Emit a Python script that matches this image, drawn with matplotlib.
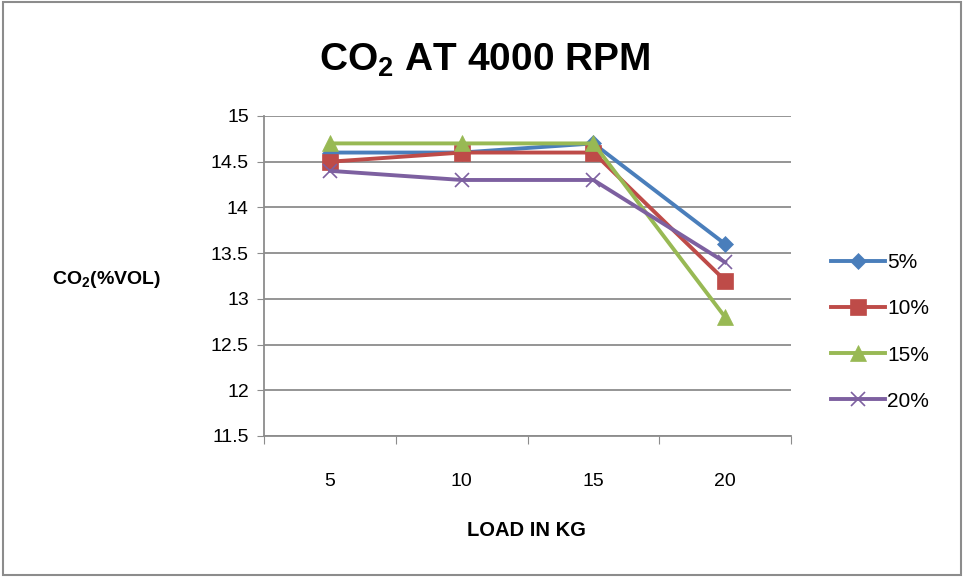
import matplotlib
matplotlib.use('Agg')
import matplotlib.pyplot as plt
from matplotlib.patches import Rectangle

plt.rcParams['font.family'] = ['Liberation Sans', 'DejaVu Sans']
plt.rcParams['mathtext.default'] = 'regular'

# ── Data ────────────────────────────────────────────────────────────────────
loads = ['5', '10', '15', '20']
series_names = ['5%', '10%', '15%', '20%']
co2_5 = [14.6, 14.6, 14.7, 13.6]
co2_10 = [14.5, 14.6, 14.6, 13.2]
co2_15 = [14.7, 14.7, 14.7, 12.8]
co2_20 = [14.4, 14.3, 14.3, 13.4]
y_ticks = [11.5, 12, 12.5, 13, 13.5, 14, 14.5, 15]

# ── Style ───────────────────────────────────────────────────────────────────
COLORS = ['#4A7EBB', '#BE4B48', '#98B954', '#7D60A0']
MARKERS = ['D', 's', '^', 'x']
MSIZES = [8, 11, 11, 10]
GRID = '#8c8c8c'

fig = plt.figure(figsize=(9.64, 5.77), dpi=100)
fig.patch.set_facecolor('white')
fig.patches.append(Rectangle((0.003, 0.003), 0.994, 0.994, transform=fig.transFigure,
                             fill=False, edgecolor='#8c8c8c', linewidth=1.5))

ax = fig.add_axes([0.274, 0.2444, 0.5465, 0.5546])
x = list(range(len(loads)))
for vals, name, c, m, ms in zip([co2_5, co2_10, co2_15, co2_20], series_names,
                                COLORS, MARKERS, MSIZES):
    ax.plot(x, vals, color=c, lw=2.8, marker=m, markersize=ms,
            markeredgewidth=1.2 if m == 'x' else 0.5, markeredgecolor=c, label=name)

ax.set_xlim(-0.5, 3.5)
ax.set_ylim(11.5, 15)
ax.set_yticks(y_ticks)
ax.set_yticklabels([f'{v:g}' for v in y_ticks], fontsize=14)
ax.set_xticks([-0.5, 0.5, 1.5, 2.5, 3.5])
ax.set_xticklabels([])
ax.set_xticks(x, minor=True)
ax.set_xticklabels(loads, minor=True, fontsize=14)
ax.tick_params(axis='x', which='minor', length=0, pad=27)
ax.tick_params(axis='x', which='major', length=6, color=GRID, direction='out')
ax.tick_params(axis='y', length=5, color=GRID, direction='out', pad=6)
ax.yaxis.grid(True, color=GRID, lw=1.3)
ax.set_axisbelow(True)
for s in ['top', 'right']:
    ax.spines[s].set_visible(False)
for s in ['left', 'bottom']:
    ax.spines[s].set_color(GRID)
    ax.spines[s].set_linewidth(1.3)

fig.text(0.503, 0.895, r'CO$_2$ AT 4000 RPM', ha='center', va='center',
         fontsize=28, fontweight='bold')
fig.text(0.110, 0.515, r'CO$_2$(%VOL)', ha='center', va='center',
         fontsize=14, fontweight='bold')
fig.text(0.546, 0.08, 'LOAD IN KG', ha='center', va='center',
         fontsize=14.5, fontweight='bold')

fig.legend(*ax.get_legend_handles_labels(), loc='center left',
           bbox_to_anchor=(0.862, 0.4246), bbox_transform=fig.transFigure,
           frameon=False, fontsize=15, handlelength=2.6, labelspacing=1.3,
           handletextpad=0.1, borderpad=0, borderaxespad=0)

fig.savefig('out.png', dpi=100, facecolor='white')
